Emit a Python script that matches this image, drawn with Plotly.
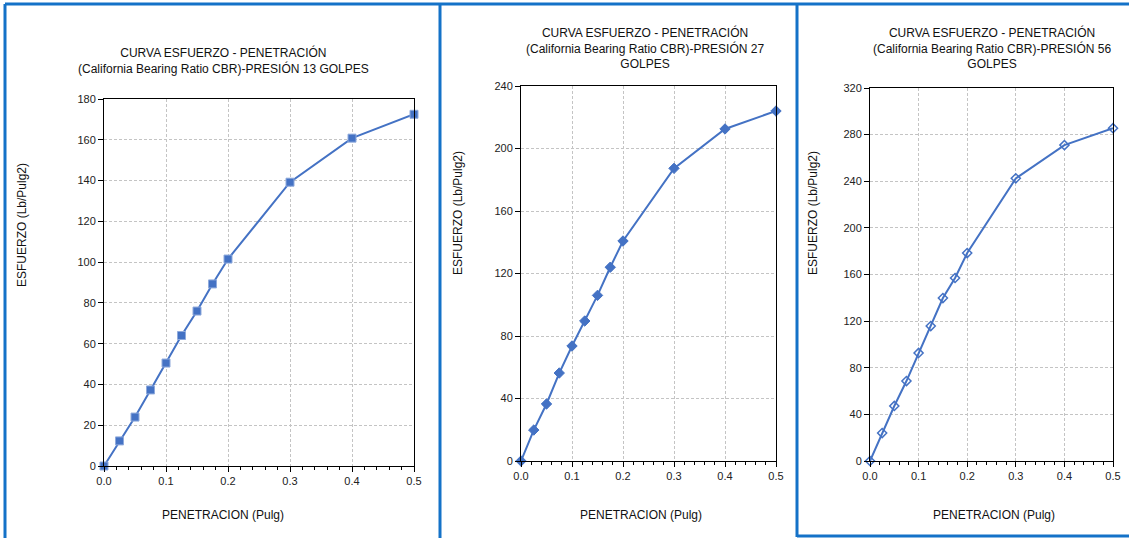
import plotly.graph_objects as go

W, H = 1129, 538

penetracion = [0, 0.025, 0.05, 0.075, 0.1, 0.125, 0.15, 0.175, 0.2, 0.3, 0.4, 0.5]
esfuerzo_13 = [0, 12.3, 24, 37.3, 50.5, 64, 76, 89.3, 101.5, 139.2, 160.8, 172.5]
esfuerzo_27 = [0, 19.8, 36.5, 56.3, 73.6, 89.6, 106, 124, 140.8, 187.3, 212.5, 224]
esfuerzo_56 = [0, 24, 47.2, 68.6, 92.7, 115.8, 139.8, 157, 178.4, 242.5, 271, 285.5]

titles = [
    "CURVA ESFUERZO - PENETRACIÓN<br>(California Bearing Ratio CBR)-PRESIÓN 13 GOLPES",
    "CURVA ESFUERZO - PENETRACIÓN<br>(California Bearing Ratio CBR)-PRESIÓN 27<br>GOLPES",
    "CURVA ESFUERZO - PENETRACIÓN<br>(California Bearing Ratio CBR)-PRESIÓN 56<br>GOLPES",
]
y_title = "ESFUERZO (Lb/Pulg2)"
x_title = "PENETRACION (Pulg)"
x_ticks = [0.0, 0.1, 0.2, 0.3, 0.4, 0.5]
y_ranges = [(0, 180, 20), (0, 240, 40), (0, 320, 40)]

series = [esfuerzo_13, esfuerzo_27, esfuerzo_56]
symbols = ["square", "diamond", "diamond-open"]
msizes = [8, 8, 7]

# pixel layout of panels
plot_px = [  # x0, x1, ytop, ybottom
    (104, 414, 99, 466),
    (521, 776, 86, 461),
    (870, 1113, 88, 461),
]
title_px = [(223, 61), (645, 48), (992, 48)]
ytitle_px = [(22, 225), (458, 213), (813, 213)]
xtitle_px = [(223, 515), (641, 515), (994, 515)]

BLUE = "#4472C4"
fig = go.Figure()
TF = "Liberation Sans"

for i in range(3):
    ax = "" if i == 0 else str(i + 1)
    fig.add_trace(go.Scatter(
        x=penetracion, y=series[i], mode="lines+markers",
        line=dict(color=BLUE, width=2),
        marker=dict(symbol=symbols[i], size=msizes[i], color=BLUE,
                    line=dict(color="#8FAADC" if i == 0 else BLUE, width=1 if i < 2 else 1.5)),
        xaxis="x" + ax, yaxis="y" + ax, showlegend=False, cliponaxis=False,
    ))
    x0, x1, yt, yb = plot_px[i]
    lo, hi, step = y_ranges[i]
    common = dict(showline=True, linecolor="black", linewidth=1, mirror=True,
                  showgrid=True, gridcolor="#C4C4C4", griddash="3px,2px", gridwidth=1,
                  zeroline=False, ticks="outside", ticklen=5, tickcolor="black",
                  automargin=False,
                  tickfont=dict(family="Liberation Sans", size=11, color="#222"))
    fig.layout["xaxis" + ax] = dict(
        domain=[x0 / W, x1 / W], range=[0, 0.5], tickvals=x_ticks,
        tickformat=".1f", anchor="y" + ax,
        minor=dict(dtick=0.02, ticks="outside", ticklen=3, tickcolor="black", showgrid=False),
        **common)
    fig.layout["yaxis" + ax] = dict(
        domain=[1 - yb / H, 1 - yt / H], range=[lo, hi], dtick=step,
        anchor="x" + ax, **common)
    tx, ty = title_px[i]
    fig.add_annotation(x=tx / W, y=1 - ty / H, xref="paper", yref="paper",
                       text=titles[i], showarrow=False, xanchor="center", yanchor="middle",
                       font=dict(family=TF, size=12, color="#111"), align="center")
    yx, yy = ytitle_px[i]
    fig.add_annotation(x=yx / W, y=1 - yy / H, xref="paper", yref="paper",
                       text=y_title, showarrow=False, textangle=-90,
                       xanchor="center", yanchor="middle",
                       font=dict(family=TF, size=12, color="#111"))
    xx, xy = xtitle_px[i]
    fig.add_annotation(x=xx / W, y=1 - xy / H, xref="paper", yref="paper",
                       text=x_title, showarrow=False, xanchor="center", yanchor="middle",
                       font=dict(family=TF, size=12, color="#111"))

BORDER = "#1472C8"
def pline(xa, ya, xb, yb):
    fig.add_shape(type="line", xref="paper", yref="paper",
                  x0=xa / W, y0=1 - ya / H, x1=xb / W, y1=1 - yb / H,
                  line=dict(color=BORDER, width=3))

pline(5, 4, 1129, 4)
pline(5, 4, 5, 538)
pline(440, 4, 440, 538)
pline(797, 4, 797, 537)
pline(797, 536, 1129, 536)

fig.update_layout(width=W, height=H, margin=dict(l=0, r=0, t=0, b=0, pad=0),
                  template="none",
                  paper_bgcolor="white", plot_bgcolor="white")
fig.write_html("out.html")
